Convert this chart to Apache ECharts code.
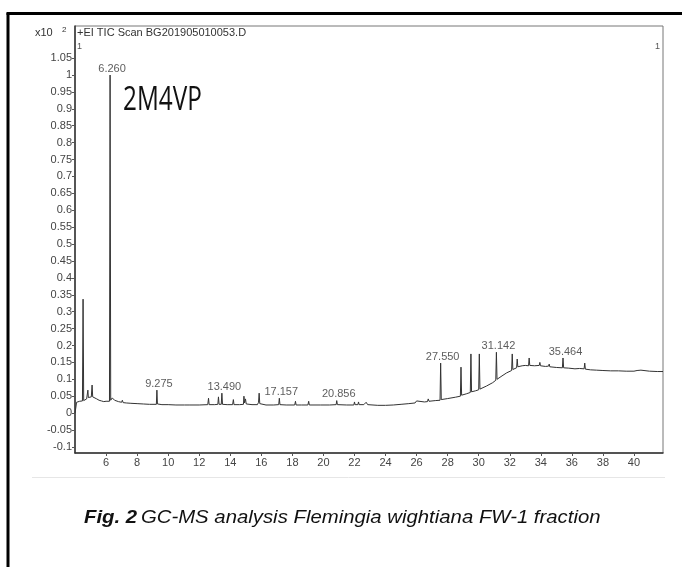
<!DOCTYPE html>
<html>
<head>
<meta charset="utf-8">
<script src="https://cdn.jsdelivr.net/npm/echarts@6/dist/echarts.min.js"></script>
<style>
html,body{margin:0;padding:0;background:#fff;}
#c{width:682px;height:567px;}
</style>
</head>
<body>
<div id="c"></div>
<script>
// Retention time (min) and abundance (x10^2)
const rtTime = [
4.00,4.05,4.10,4.20,4.30,4.48,4.52,4.56,4.65,4.75,4.80,4.83,4.86,4.95,5.05,5.10,5.14,5.25,5.40,5.55,
5.70,5.85,6.00,6.10,6.22,6.26,6.30,6.40,6.45,6.55,6.60,6.65,6.80,7.00,7.05,7.10,7.30,7.60,8.00,8.40,
8.80,9.24,9.275,9.31,9.60,10.00,10.50,11.05,11.10,11.15,11.35,11.40,11.45,12.00,12.55,12.60,12.64,13.00,13.20,13.24,
13.28,13.42,13.46,13.50,13.80,14.15,14.20,14.24,14.60,14.85,14.88,14.92,14.98,15.03,15.40,15.75,15.82,15.86,15.90,16.30,
16.80,17.12,17.16,17.20,17.60,18.15,18.20,18.24,18.60,19.00,19.05,19.09,19.80,20.40,20.82,20.856,20.90,21.50,21.96,22.00,
22.04,22.22,22.26,22.30,22.60,22.75,22.80,22.85,23.50,24.00,24.50,25.00,25.50,25.90,26.00,26.05,26.50,26.70,26.75,26.80,
27.20,27.51,27.55,27.59,28.00,28.50,28.82,28.86,28.90,29.20,29.46,29.50,29.54,29.80,30.00,30.04,30.08,30.50,30.90,31.10,
31.14,31.18,31.50,31.80,32.12,32.16,32.20,32.44,32.48,32.52,32.80,33.00,33.21,33.25,33.29,33.60,33.90,33.94,33.98,34.30,
34.50,34.54,34.58,35.00,35.39,35.43,35.47,35.80,36.20,36.50,36.79,36.83,36.87,37.20,37.60,38.00,38.50,39.00,39.50,40.00,
40.20,40.30,40.45,40.55,41.00,41.50,41.87
];
const abundance = [
0.000,0.015,0.032,0.035,0.035,0.036,0.337,0.037,0.038,0.042,0.045,0.068,0.046,0.047,0.048,0.083,0.048,0.046,0.042,0.038,
0.036,0.034,0.035,0.034,0.035,1.000,0.038,0.045,0.040,0.038,0.042,0.036,0.034,0.032,0.038,0.031,0.030,0.029,0.028,0.027,
0.026,0.026,0.068,0.027,0.025,0.025,0.024,0.024,0.029,0.024,0.024,0.028,0.024,0.024,0.025,0.044,0.025,0.025,0.026,0.048,
0.026,0.026,0.059,0.026,0.025,0.025,0.040,0.025,0.025,0.026,0.050,0.030,0.042,0.027,0.025,0.025,0.032,0.059,0.028,0.024,
0.024,0.025,0.044,0.025,0.024,0.024,0.035,0.024,0.024,0.024,0.035,0.024,0.024,0.024,0.025,0.037,0.025,0.024,0.024,0.033,
0.025,0.025,0.033,0.025,0.025,0.032,0.030,0.025,0.023,0.023,0.024,0.026,0.028,0.030,0.036,0.031,0.033,0.034,0.042,0.035,
0.037,0.038,0.148,0.040,0.043,0.047,0.050,0.136,0.053,0.057,0.061,0.175,0.063,0.066,0.069,0.175,0.071,0.080,0.090,0.097,
0.180,0.100,0.110,0.119,0.126,0.175,0.129,0.134,0.160,0.137,0.140,0.141,0.140,0.163,0.141,0.140,0.141,0.150,0.140,0.138,
0.139,0.145,0.137,0.135,0.134,0.163,0.134,0.133,0.131,0.132,0.131,0.148,0.130,0.128,0.127,0.126,0.125,0.125,0.124,0.124,
0.126,0.125,0.127,0.124,0.124,0.123,0.123
];
// Labelled peaks
const peakTimes   = [6.260, 9.275, 13.490, 17.157, 20.856, 27.550, 31.142, 35.464];
const peakHeights = [1.000, 0.068, 0.059, 0.044, 0.037, 0.148, 0.180, 0.163];
const peakLabels  = ["6.260", "9.275", "13.490", "17.157", "20.856", "27.550", "31.142", "35.464"];
// Axis ticks
const xTicks = [6,8,10,12,14,16,18,20,22,24,26,28,30,32,34,36,38,40];
const yTicks = [-0.1,-0.05,0,0.05,0.1,0.15,0.2,0.25,0.3,0.35,0.4,0.45,0.5,0.55,0.6,0.65,0.7,0.75,0.8,0.85,0.9,0.95,1,1.05];

const traceData = rtTime.map((t, i) => [t, abundance[i]]);
const peakData = peakTimes.map((t, i) => [t, peakHeights[i], peakLabels[i]]);

const chart = echarts.init(document.getElementById('c'), null, {renderer: 'canvas'});
const FONT = 'Liberation Sans, Arial, sans-serif';

chart.setOption({
  animation: false,
  backgroundColor: '#fff',
  grid: {left: 75, right: 19, top: 26, bottom: 114, show: true, borderColor: '#777', borderWidth: 1, containLabel: false},
  xAxis: {
    type: 'value', min: 4.0, max: 41.87,
    axisLine: {show: true, onZero: false, lineStyle: {color: '#333', width: 1.5}},
    axisTick: {show: true, length: 3, customValues: xTicks, lineStyle: {color: '#555'}},
    axisLabel: {customValues: xTicks, color: '#444', fontSize: 11, fontFamily: FONT, margin: 4},
    splitLine: {show: false}
  },
  yAxis: {
    type: 'value', min: -0.118, max: 1.145,
    axisLine: {show: true, onZero: false, lineStyle: {color: '#333', width: 1.5}},
    axisTick: {show: true, length: 3, customValues: yTicks, lineStyle: {color: '#555'}},
    axisLabel: {customValues: yTicks, color: '#444', fontSize: 11, fontFamily: FONT, margin: 3,
      formatter: v => String(parseFloat(Number(v).toFixed(2)))},
    splitLine: {show: false}
  },
  series: [
    {
      type: 'line', data: traceData, showSymbol: false, symbol: 'none',
      lineStyle: {color: '#333', width: 1}, z: 3
    },
    {
      type: 'scatter', data: peakData, symbolSize: 0, z: 4,
      label: {show: true, position: 'top', distance: 1, offset: [2, 0], color: '#333', fontSize: 11, fontFamily: FONT,
        formatter: p => p.data[2]}
    }
  ],
  graphic: [
    // outer frame lines (left and top)
    {type: 'line', shape: {x1: 8, y1: 13, x2: 8, y2: 567}, style: {stroke: '#000', lineWidth: 3}},
    {type: 'line', shape: {x1: 6.5, y1: 13.5, x2: 682, y2: 13.5}, style: {stroke: '#000', lineWidth: 3}},
    // faint lower edge of chart picture
    {type: 'line', shape: {x1: 32, y1: 477.5, x2: 665, y2: 477.5}, style: {stroke: '#e6e6e6', lineWidth: 1}},
    // header texts
    {type: 'text', x: 35, y: 33, style: {text: 'x10', font: '11px ' + FONT, fill: '#333', textVerticalAlign: 'middle'}},
    {type: 'text', x: 62, y: 30, style: {text: '2', font: '8px ' + FONT, fill: '#333', textVerticalAlign: 'middle'}},
    {type: 'text', x: 77, y: 33, style: {text: '+EI TIC Scan BG201905010053.D', font: '11px ' + FONT, fill: '#333', textVerticalAlign: 'middle'}},
    {type: 'text', x: 77, y: 47, style: {text: '1', font: '9px ' + FONT, fill: '#555', textVerticalAlign: 'middle'}},
    {type: 'text', x: 655, y: 47, style: {text: '1', font: '9px ' + FONT, fill: '#555', textVerticalAlign: 'middle'}},
    // compound annotation
    {type: 'text', x: 123, y: 101, scaleX: 0.76, style: {text: '2M4VP', font: '32px "Open Sans", "Noto Sans", sans-serif', fill: '#111', textVerticalAlign: 'middle'}},
    // caption
    {type: 'text', x: 84, y: 518, scaleX: 1.13, style: {
      text: '{b|Fig. 2} {i|GC-MS analysis Flemingia wightiana FW-1 fraction}',
      textVerticalAlign: 'middle',
      rich: {
        b: {font: 'italic bold 18px ' + FONT, fill: '#111'},
        i: {font: 'italic 18px ' + FONT, fill: '#111'}
      }
    }}
  ]
});
</script>
</body>
</html>
